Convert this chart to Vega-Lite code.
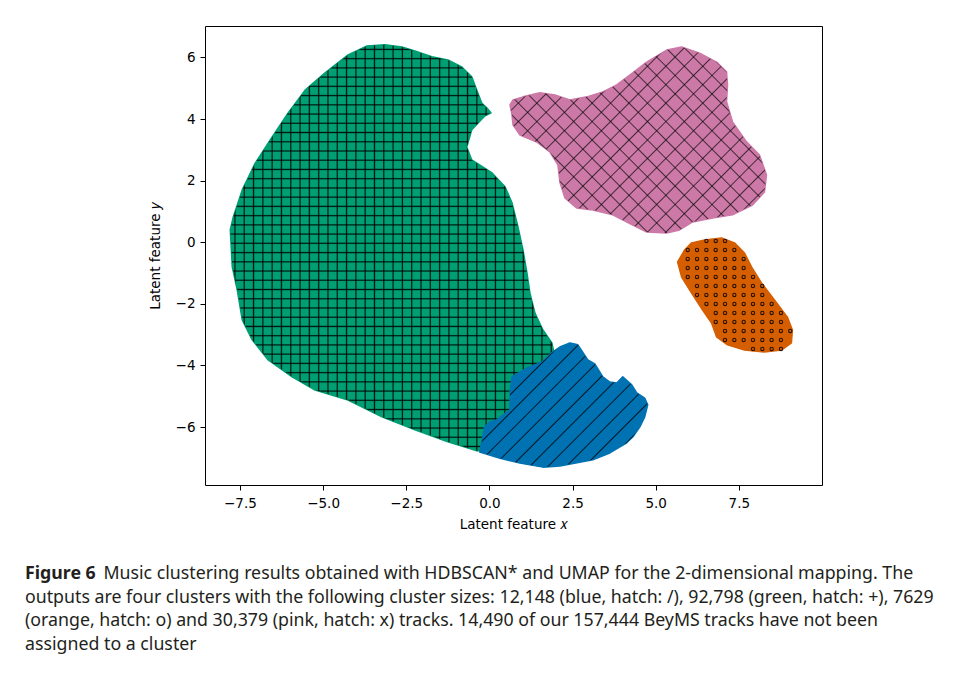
{
"$schema": "https://vega.github.io/schema/vega-lite/v6.json",
"width": 617, "height": 459,
"autosize": {"type": "none"},
"padding": {"left": 205, "top": 26, "right": 133, "bottom": 191},
"background": "white",
"config": {
 "view": {"stroke": "black", "strokeWidth": 1},
 "axis": {"grid": false, "domain": false, "tickColor": "black", "tickSize": 5, "tickWidth": 1, "labelColor": "black", "labelFont": "DejaVu Sans", "labelFontSize": 13.5, "labelPadding": 5, "titleFont": "DejaVu Sans", "titleFontSize": 13.5, "titleFontWeight": "normal", "titleColor": "black"}
},
"title": {"text": "Figure 6", "subtitle": ["\u200b\u00a0\u00a0\u00a0\u00a0\u00a0\u00a0\u00a0\u00a0\u00a0\u00a0\u00a0\u00a0\u00a0\u00a0\u00a0\u00a0\u00a0Music clustering results obtained with HDBSCAN* and UMAP for the 2-dimensional mapping. The", "outputs are four clusters with the following cluster sizes: 12,148 (blue, hatch: /), 92,798 (green, hatch: +), 7629", "(orange, hatch: o) and 30,379 (pink, hatch: x) tracks. 14,490 of our 157,444 BeyMS tracks have not been", "assigned to a cluster"], "orient": "bottom", "anchor": "start", "frame": "group", "dx": -180, "offset": 34, "font": "Noto Sans", "fontSize": 17.75, "fontWeight": "bold", "color": "#231f20", "subtitleFont": "Noto Sans", "subtitleFontSize": 17.75, "subtitleFontWeight": "normal", "subtitleColor": "#231f20", "subtitleLineHeight": 23.5, "subtitlePadding": -17.75},
"datasets": {
 "poly": [
  {"c":"green","i":0,"x":-3.14,"y":6.41},{"c":"green","i":1,"x":-2.63,"y":6.34},{"c":"green","i":2,"x":-2.24,"y":6.21},{"c":"green","i":3,"x":-1.73,"y":6.02},{"c":"green","i":4,"x":-1.25,"y":5.92},{"c":"green","i":5,"x":-0.83,"y":5.69},{"c":"green","i":6,"x":-0.53,"y":5.37},{"c":"green","i":7,"x":-0.35,"y":4.85},{"c":"green","i":8,"x":-0.23,"y":4.52},{"c":"green","i":9,"x":-0.05,"y":4.33},{"c":"green","i":10,"x":0.05,"y":4.2},{"c":"green","i":11,"x":-0.14,"y":4.1},{"c":"green","i":12,"x":-0.53,"y":3.65},{"c":"green","i":13,"x":-0.68,"y":3.09},{"c":"green","i":14,"x":-0.53,"y":2.67},{"c":"green","i":15,"x":0.08,"y":2.25},{"c":"green","i":16,"x":0.47,"y":1.8},{"c":"green","i":17,"x":0.68,"y":1.28},{"c":"green","i":18,"x":0.86,"y":0.5},{"c":"green","i":19,"x":1.01,"y":-0.25},{"c":"green","i":20,"x":1.13,"y":-1.0},{"c":"green","i":21,"x":1.22,"y":-1.65},{"c":"green","i":22,"x":1.37,"y":-2.3},{"c":"green","i":23,"x":1.61,"y":-2.85},{"c":"green","i":24,"x":1.88,"y":-3.27},{"c":"green","i":25,"x":2.0,"y":-3.9},{"c":"green","i":26,"x":1.37,"y":-5.12},{"c":"green","i":27,"x":0.68,"y":-6.16},{"c":"green","i":28,"x":0.02,"y":-6.65},{"c":"green","i":29,"x":-0.35,"y":-6.78},{"c":"green","i":30,"x":-1.25,"y":-6.48},{"c":"green","i":31,"x":-2.24,"y":-6.09},{"c":"green","i":32,"x":-3.23,"y":-5.67},{"c":"green","i":33,"x":-4.25,"y":-5.12},{"c":"green","i":34,"x":-5.24,"y":-4.8},{"c":"green","i":35,"x":-5.93,"y":-4.37},{"c":"green","i":36,"x":-6.65,"y":-3.82},{"c":"green","i":37,"x":-7.13,"y":-3.17},{"c":"green","i":38,"x":-7.43,"y":-2.52},{"c":"green","i":39,"x":-7.58,"y":-1.55},{"c":"green","i":40,"x":-7.73,"y":-0.8},{"c":"green","i":41,"x":-7.79,"y":0.4},{"c":"green","i":42,"x":-7.7,"y":0.82},{"c":"green","i":43,"x":-7.43,"y":1.7},{"c":"green","i":44,"x":-7.04,"y":2.57},{"c":"green","i":45,"x":-6.53,"y":3.42},{"c":"green","i":46,"x":-6.05,"y":4.2},{"c":"green","i":47,"x":-5.54,"y":4.94},{"c":"green","i":48,"x":-4.94,"y":5.5},{"c":"green","i":49,"x":-4.25,"y":6.08},{"c":"green","i":50,"x":-3.68,"y":6.37},
  {"c":"blue","i":0,"x":-0.29,"y":-6.81},{"c":"blue","i":1,"x":-0.14,"y":-5.99},{"c":"blue","i":2,"x":0.02,"y":-5.83},{"c":"blue","i":3,"x":0.23,"y":-5.76},{"c":"blue","i":4,"x":0.62,"y":-5.44},{"c":"blue","i":5,"x":0.62,"y":-4.89},{"c":"blue","i":6,"x":0.68,"y":-4.37},{"c":"blue","i":7,"x":1.13,"y":-4.08},{"c":"blue","i":8,"x":1.58,"y":-3.89},{"c":"blue","i":9,"x":1.91,"y":-3.56},{"c":"blue","i":10,"x":2.12,"y":-3.4},{"c":"blue","i":11,"x":2.42,"y":-3.27},{"c":"blue","i":12,"x":2.66,"y":-3.33},{"c":"blue","i":13,"x":2.78,"y":-3.53},{"c":"blue","i":14,"x":2.96,"y":-3.82},{"c":"blue","i":15,"x":3.17,"y":-3.95},{"c":"blue","i":16,"x":3.41,"y":-4.37},{"c":"blue","i":17,"x":3.62,"y":-4.54},{"c":"blue","i":18,"x":3.83,"y":-4.57},{"c":"blue","i":19,"x":4.01,"y":-4.37},{"c":"blue","i":20,"x":4.28,"y":-4.63},{"c":"blue","i":21,"x":4.43,"y":-4.89},{"c":"blue","i":22,"x":4.67,"y":-5.06},{"c":"blue","i":23,"x":4.76,"y":-5.28},{"c":"blue","i":24,"x":4.67,"y":-5.67},{"c":"blue","i":25,"x":4.52,"y":-6.0},{"c":"blue","i":26,"x":4.31,"y":-6.32},{"c":"blue","i":27,"x":4.13,"y":-6.51},{"c":"blue","i":28,"x":3.62,"y":-6.84},{"c":"blue","i":29,"x":3.11,"y":-7.06},{"c":"blue","i":30,"x":2.12,"y":-7.26},{"c":"blue","i":31,"x":1.61,"y":-7.3},{"c":"blue","i":32,"x":0.92,"y":-7.17},{"c":"blue","i":33,"x":0.32,"y":-7.01},
  {"c":"pink","i":0,"x":0.62,"y":4.46},{"c":"pink","i":1,"x":0.71,"y":4.62},{"c":"pink","i":2,"x":1.01,"y":4.72},{"c":"pink","i":3,"x":1.52,"y":4.85},{"c":"pink","i":4,"x":1.97,"y":4.78},{"c":"pink","i":5,"x":2.42,"y":4.62},{"c":"pink","i":6,"x":2.93,"y":4.72},{"c":"pink","i":7,"x":3.41,"y":4.88},{"c":"pink","i":8,"x":3.83,"y":5.11},{"c":"pink","i":9,"x":4.22,"y":5.43},{"c":"pink","i":10,"x":4.73,"y":5.85},{"c":"pink","i":11,"x":5.33,"y":6.24},{"c":"pink","i":12,"x":5.78,"y":6.34},{"c":"pink","i":13,"x":6.32,"y":6.14},{"c":"pink","i":14,"x":6.83,"y":5.85},{"c":"pink","i":15,"x":7.13,"y":5.53},{"c":"pink","i":16,"x":7.16,"y":5.11},{"c":"pink","i":17,"x":7.13,"y":4.56},{"c":"pink","i":18,"x":7.31,"y":3.91},{"c":"pink","i":19,"x":7.73,"y":3.26},{"c":"pink","i":20,"x":8.12,"y":2.83},{"c":"pink","i":21,"x":8.33,"y":2.19},{"c":"pink","i":22,"x":8.27,"y":1.63},{"c":"pink","i":23,"x":7.91,"y":1.21},{"c":"pink","i":24,"x":7.31,"y":0.89},{"c":"pink","i":25,"x":6.71,"y":0.79},{"c":"pink","i":26,"x":6.11,"y":0.66},{"c":"pink","i":27,"x":5.72,"y":0.4},{"c":"pink","i":28,"x":5.33,"y":0.3},{"c":"pink","i":29,"x":4.73,"y":0.33},{"c":"pink","i":30,"x":4.31,"y":0.56},{"c":"pink","i":31,"x":3.71,"y":0.89},{"c":"pink","i":32,"x":3.11,"y":1.05},{"c":"pink","i":33,"x":2.63,"y":1.11},{"c":"pink","i":34,"x":2.27,"y":1.44},{"c":"pink","i":35,"x":2.12,"y":1.95},{"c":"pink","i":36,"x":2.06,"y":2.51},{"c":"pink","i":37,"x":1.82,"y":2.93},{"c":"pink","i":38,"x":1.43,"y":3.25},{"c":"pink","i":39,"x":0.92,"y":3.48},{"c":"pink","i":40,"x":0.71,"y":3.81},{"c":"pink","i":41,"x":0.68,"y":4.13},
  {"c":"orange","i":0,"x":5.87,"y":-0.25},{"c":"orange","i":1,"x":6.08,"y":-0.02},{"c":"orange","i":2,"x":6.47,"y":0.07},{"c":"orange","i":3,"x":6.98,"y":0.14},{"c":"orange","i":4,"x":7.37,"y":-0.02},{"c":"orange","i":5,"x":7.67,"y":-0.35},{"c":"orange","i":6,"x":7.88,"y":-0.8},{"c":"orange","i":7,"x":8.18,"y":-1.32},{"c":"orange","i":8,"x":8.57,"y":-1.87},{"c":"orange","i":9,"x":8.96,"y":-2.43},{"c":"orange","i":10,"x":9.11,"y":-2.85},{"c":"orange","i":11,"x":9.08,"y":-3.27},{"c":"orange","i":12,"x":8.78,"y":-3.5},{"c":"orange","i":13,"x":8.27,"y":-3.56},{"c":"orange","i":14,"x":7.67,"y":-3.5},{"c":"orange","i":15,"x":7.16,"y":-3.33},{"c":"orange","i":16,"x":6.83,"y":-3.07},{"c":"orange","i":17,"x":6.68,"y":-2.62},{"c":"orange","i":18,"x":6.41,"y":-2.2},{"c":"orange","i":19,"x":6.08,"y":-1.65},{"c":"orange","i":20,"x":5.78,"y":-1.13},{"c":"orange","i":21,"x":5.66,"y":-0.64}
 ],
 "orange_rows": [
  {"x":6.525,"x2":7.11,"y":0.042},{"x":5.963,"x2":7.4,"y":-0.25},{"x":5.963,"x2":7.68,"y":-0.542},{"x":5.963,"x2":7.68,"y":-0.834},{"x":5.963,"x2":7.96,"y":-1.126},{"x":6.243,"x2":8.24,"y":-1.418},{"x":6.243,"x2":8.24,"y":-1.71},{"x":6.525,"x2":8.52,"y":-2.003},{"x":6.805,"x2":8.8,"y":-2.295},{"x":6.805,"x2":8.8,"y":-2.587},{"x":7.084,"x2":9.08,"y":-2.879},{"x":7.084,"x2":8.8,"y":-3.171},{"x":7.926,"x2":8.8,"y":-3.463}
 ]
},
"encoding": {
 "x": {"field": "x", "type": "quantitative", "scale": {"domain": [-8.55, 10.0], "nice": false, "zero": false}, "axis": {"values": [-7.5, -5, -2.5, 0, 2.5, 5, 7.5], "format": ".1f", "title": "Latent feature 𝑥", "titlePadding": 8, "labelPadding": 6}},
 "y": {"field": "y", "type": "quantitative", "scale": {"domain": [-7.88, 7.02], "nice": false, "zero": false}, "axis": {"values": [-6, -4, -2, 0, 2, 4, 6], "format": "d", "title": "Latent feature 𝑦", "titlePadding": 13}}
},
"layer": [
 {"data": {"name": "poly"}, "transform": [{"filter": "datum.c == 'green'"}], "mark": {"type": "line", "interpolate": "linear-closed", "fill": "#009E73", "stroke": "#009E73", "strokeWidth": 1.5, "strokeJoin": "round"}, "encoding": {"order": {"field": "i", "type": "quantitative"}}},
 {"data": {"name": "poly"}, "transform": [{"filter": "datum.c == 'green'"}], "mark": {"type": "line", "interpolate": "linear-closed", "stroke": "transparent", "strokeWidth": 0, "fill": {"gradient": "linear", "x1": 0, "y1": 0, "x2": 1, "y2": 0, "stops": [
  {"offset":0,"color":"#00000000"},
  {"offset":0.0106,"color":"#00000000"},{"offset":0.0143,"color":"#000000dd"},{"offset":0.018,"color":"#00000000"},
  {"offset":0.0392,"color":"#00000000"},{"offset":0.0429,"color":"#000000dd"},{"offset":0.0466,"color":"#00000000"},
  {"offset":0.0677,"color":"#00000000"},{"offset":0.0714,"color":"#000000dd"},{"offset":0.0751,"color":"#00000000"},
  {"offset":0.0963,"color":"#00000000"},{"offset":0.1,"color":"#000000dd"},{"offset":0.1037,"color":"#00000000"},
  {"offset":0.1249,"color":"#00000000"},{"offset":0.1286,"color":"#000000dd"},{"offset":0.1323,"color":"#00000000"},
  {"offset":0.1534,"color":"#00000000"},{"offset":0.1571,"color":"#000000dd"},{"offset":0.1608,"color":"#00000000"},
  {"offset":0.182,"color":"#00000000"},{"offset":0.1857,"color":"#000000dd"},{"offset":0.1894,"color":"#00000000"},
  {"offset":0.2106,"color":"#00000000"},{"offset":0.2143,"color":"#000000dd"},{"offset":0.218,"color":"#00000000"},
  {"offset":0.2392,"color":"#00000000"},{"offset":0.2429,"color":"#000000dd"},{"offset":0.2466,"color":"#00000000"},
  {"offset":0.2677,"color":"#00000000"},{"offset":0.2714,"color":"#000000dd"},{"offset":0.2751,"color":"#00000000"},
  {"offset":0.2963,"color":"#00000000"},{"offset":0.3,"color":"#000000dd"},{"offset":0.3037,"color":"#00000000"},
  {"offset":0.3249,"color":"#00000000"},{"offset":0.3286,"color":"#000000dd"},{"offset":0.3323,"color":"#00000000"},
  {"offset":0.3534,"color":"#00000000"},{"offset":0.3571,"color":"#000000dd"},{"offset":0.3608,"color":"#00000000"},
  {"offset":0.382,"color":"#00000000"},{"offset":0.3857,"color":"#000000dd"},{"offset":0.3894,"color":"#00000000"},
  {"offset":0.4106,"color":"#00000000"},{"offset":0.4143,"color":"#000000dd"},{"offset":0.418,"color":"#00000000"},
  {"offset":0.4392,"color":"#00000000"},{"offset":0.4429,"color":"#000000dd"},{"offset":0.4466,"color":"#00000000"},
  {"offset":0.4677,"color":"#00000000"},{"offset":0.4714,"color":"#000000dd"},{"offset":0.4751,"color":"#00000000"},
  {"offset":0.4963,"color":"#00000000"},{"offset":0.5,"color":"#000000dd"},{"offset":0.5037,"color":"#00000000"},
  {"offset":0.5249,"color":"#00000000"},{"offset":0.5286,"color":"#000000dd"},{"offset":0.5323,"color":"#00000000"},
  {"offset":0.5534,"color":"#00000000"},{"offset":0.5571,"color":"#000000dd"},{"offset":0.5608,"color":"#00000000"},
  {"offset":0.582,"color":"#00000000"},{"offset":0.5857,"color":"#000000dd"},{"offset":0.5894,"color":"#00000000"},
  {"offset":0.6106,"color":"#00000000"},{"offset":0.6143,"color":"#000000dd"},{"offset":0.618,"color":"#00000000"},
  {"offset":0.6392,"color":"#00000000"},{"offset":0.6429,"color":"#000000dd"},{"offset":0.6466,"color":"#00000000"},
  {"offset":0.6677,"color":"#00000000"},{"offset":0.6714,"color":"#000000dd"},{"offset":0.6751,"color":"#00000000"},
  {"offset":0.6963,"color":"#00000000"},{"offset":0.7,"color":"#000000dd"},{"offset":0.7037,"color":"#00000000"},
  {"offset":0.7249,"color":"#00000000"},{"offset":0.7286,"color":"#000000dd"},{"offset":0.7323,"color":"#00000000"},
  {"offset":0.7534,"color":"#00000000"},{"offset":0.7571,"color":"#000000dd"},{"offset":0.7608,"color":"#00000000"},
  {"offset":0.782,"color":"#00000000"},{"offset":0.7857,"color":"#000000dd"},{"offset":0.7894,"color":"#00000000"},
  {"offset":0.8106,"color":"#00000000"},{"offset":0.8143,"color":"#000000dd"},{"offset":0.818,"color":"#00000000"},
  {"offset":0.8392,"color":"#00000000"},{"offset":0.8429,"color":"#000000dd"},{"offset":0.8466,"color":"#00000000"},
  {"offset":0.8677,"color":"#00000000"},{"offset":0.8714,"color":"#000000dd"},{"offset":0.8751,"color":"#00000000"},
  {"offset":0.8963,"color":"#00000000"},{"offset":0.9,"color":"#000000dd"},{"offset":0.9037,"color":"#00000000"},
  {"offset":0.9249,"color":"#00000000"},{"offset":0.9286,"color":"#000000dd"},{"offset":0.9323,"color":"#00000000"},
  {"offset":0.9534,"color":"#00000000"},{"offset":0.9571,"color":"#000000dd"},{"offset":0.9608,"color":"#00000000"},
  {"offset":0.982,"color":"#00000000"},{"offset":0.9857,"color":"#000000dd"},{"offset":0.9894,"color":"#00000000"},
  {"offset":1,"color":"#00000000"}]}}, "encoding": {"order": {"field": "i", "type": "quantitative"}}},
 {"data": {"name": "poly"}, "transform": [{"filter": "datum.c == 'green'"}], "mark": {"type": "line", "interpolate": "linear-closed", "stroke": "transparent", "strokeWidth": 0, "fill": {"gradient": "linear", "x1": 0, "y1": 0, "x2": 0, "y2": 1, "stops": [
  {"offset":0,"color":"#00000000"},
  {"offset":0.0084,"color":"#00000000"},{"offset":0.0114,"color":"#000000dd"},{"offset":0.0144,"color":"#00000000"},
  {"offset":0.0311,"color":"#00000000"},{"offset":0.0341,"color":"#000000dd"},{"offset":0.0371,"color":"#00000000"},
  {"offset":0.0538,"color":"#00000000"},{"offset":0.0568,"color":"#000000dd"},{"offset":0.0598,"color":"#00000000"},
  {"offset":0.0765,"color":"#00000000"},{"offset":0.0795,"color":"#000000dd"},{"offset":0.0825,"color":"#00000000"},
  {"offset":0.0993,"color":"#00000000"},{"offset":0.1023,"color":"#000000dd"},{"offset":0.1053,"color":"#00000000"},
  {"offset":0.122,"color":"#00000000"},{"offset":0.125,"color":"#000000dd"},{"offset":0.128,"color":"#00000000"},
  {"offset":0.1447,"color":"#00000000"},{"offset":0.1477,"color":"#000000dd"},{"offset":0.1507,"color":"#00000000"},
  {"offset":0.1675,"color":"#00000000"},{"offset":0.1705,"color":"#000000dd"},{"offset":0.1735,"color":"#00000000"},
  {"offset":0.1902,"color":"#00000000"},{"offset":0.1932,"color":"#000000dd"},{"offset":0.1962,"color":"#00000000"},
  {"offset":0.2129,"color":"#00000000"},{"offset":0.2159,"color":"#000000dd"},{"offset":0.2189,"color":"#00000000"},
  {"offset":0.2356,"color":"#00000000"},{"offset":0.2386,"color":"#000000dd"},{"offset":0.2416,"color":"#00000000"},
  {"offset":0.2584,"color":"#00000000"},{"offset":0.2614,"color":"#000000dd"},{"offset":0.2644,"color":"#00000000"},
  {"offset":0.2811,"color":"#00000000"},{"offset":0.2841,"color":"#000000dd"},{"offset":0.2871,"color":"#00000000"},
  {"offset":0.3038,"color":"#00000000"},{"offset":0.3068,"color":"#000000dd"},{"offset":0.3098,"color":"#00000000"},
  {"offset":0.3265,"color":"#00000000"},{"offset":0.3295,"color":"#000000dd"},{"offset":0.3325,"color":"#00000000"},
  {"offset":0.3493,"color":"#00000000"},{"offset":0.3523,"color":"#000000dd"},{"offset":0.3553,"color":"#00000000"},
  {"offset":0.372,"color":"#00000000"},{"offset":0.375,"color":"#000000dd"},{"offset":0.378,"color":"#00000000"},
  {"offset":0.3947,"color":"#00000000"},{"offset":0.3977,"color":"#000000dd"},{"offset":0.4007,"color":"#00000000"},
  {"offset":0.4175,"color":"#00000000"},{"offset":0.4205,"color":"#000000dd"},{"offset":0.4235,"color":"#00000000"},
  {"offset":0.4402,"color":"#00000000"},{"offset":0.4432,"color":"#000000dd"},{"offset":0.4462,"color":"#00000000"},
  {"offset":0.4629,"color":"#00000000"},{"offset":0.4659,"color":"#000000dd"},{"offset":0.4689,"color":"#00000000"},
  {"offset":0.4856,"color":"#00000000"},{"offset":0.4886,"color":"#000000dd"},{"offset":0.4916,"color":"#00000000"},
  {"offset":0.5084,"color":"#00000000"},{"offset":0.5114,"color":"#000000dd"},{"offset":0.5144,"color":"#00000000"},
  {"offset":0.5311,"color":"#00000000"},{"offset":0.5341,"color":"#000000dd"},{"offset":0.5371,"color":"#00000000"},
  {"offset":0.5538,"color":"#00000000"},{"offset":0.5568,"color":"#000000dd"},{"offset":0.5598,"color":"#00000000"},
  {"offset":0.5765,"color":"#00000000"},{"offset":0.5795,"color":"#000000dd"},{"offset":0.5825,"color":"#00000000"},
  {"offset":0.5993,"color":"#00000000"},{"offset":0.6023,"color":"#000000dd"},{"offset":0.6053,"color":"#00000000"},
  {"offset":0.622,"color":"#00000000"},{"offset":0.625,"color":"#000000dd"},{"offset":0.628,"color":"#00000000"},
  {"offset":0.6447,"color":"#00000000"},{"offset":0.6477,"color":"#000000dd"},{"offset":0.6507,"color":"#00000000"},
  {"offset":0.6675,"color":"#00000000"},{"offset":0.6705,"color":"#000000dd"},{"offset":0.6735,"color":"#00000000"},
  {"offset":0.6902,"color":"#00000000"},{"offset":0.6932,"color":"#000000dd"},{"offset":0.6962,"color":"#00000000"},
  {"offset":0.7129,"color":"#00000000"},{"offset":0.7159,"color":"#000000dd"},{"offset":0.7189,"color":"#00000000"},
  {"offset":0.7356,"color":"#00000000"},{"offset":0.7386,"color":"#000000dd"},{"offset":0.7416,"color":"#00000000"},
  {"offset":0.7584,"color":"#00000000"},{"offset":0.7614,"color":"#000000dd"},{"offset":0.7644,"color":"#00000000"},
  {"offset":0.7811,"color":"#00000000"},{"offset":0.7841,"color":"#000000dd"},{"offset":0.7871,"color":"#00000000"},
  {"offset":0.8038,"color":"#00000000"},{"offset":0.8068,"color":"#000000dd"},{"offset":0.8098,"color":"#00000000"},
  {"offset":0.8265,"color":"#00000000"},{"offset":0.8295,"color":"#000000dd"},{"offset":0.8325,"color":"#00000000"},
  {"offset":0.8493,"color":"#00000000"},{"offset":0.8523,"color":"#000000dd"},{"offset":0.8553,"color":"#00000000"},
  {"offset":0.872,"color":"#00000000"},{"offset":0.875,"color":"#000000dd"},{"offset":0.878,"color":"#00000000"},
  {"offset":0.8947,"color":"#00000000"},{"offset":0.8977,"color":"#000000dd"},{"offset":0.9007,"color":"#00000000"},
  {"offset":0.9175,"color":"#00000000"},{"offset":0.9205,"color":"#000000dd"},{"offset":0.9235,"color":"#00000000"},
  {"offset":0.9402,"color":"#00000000"},{"offset":0.9432,"color":"#000000dd"},{"offset":0.9462,"color":"#00000000"},
  {"offset":0.9629,"color":"#00000000"},{"offset":0.9659,"color":"#000000dd"},{"offset":0.9689,"color":"#00000000"},
  {"offset":0.9856,"color":"#00000000"},{"offset":0.9886,"color":"#000000dd"},{"offset":0.9916,"color":"#00000000"},
  {"offset":1,"color":"#00000000"}]}}, "encoding": {"order": {"field": "i", "type": "quantitative"}}},
 {"data": {"name": "poly"}, "transform": [{"filter": "datum.c == 'blue'"}], "mark": {"type": "line", "interpolate": "linear-closed", "fill": "#0072B2", "stroke": "#0072B2", "strokeWidth": 1.5, "strokeJoin": "round"}, "encoding": {"order": {"field": "i", "type": "quantitative"}}},
 {"data": {"name": "poly"}, "transform": [{"filter": "datum.c == 'blue'"}], "mark": {"type": "line", "interpolate": "linear-closed", "stroke": "transparent", "strokeWidth": 0, "fill": {"gradient": "linear", "x1": 0, "y1": 0, "x2": 1.1246, "y2": 0.8314, "stops": [
  {"offset":0,"color":"#00000000"},
  {"offset":0.0265,"color":"#00000000"},{"offset":0.0313,"color":"#000000cc"},{"offset":0.0361,"color":"#00000000"},
  {"offset":0.089,"color":"#00000000"},{"offset":0.0938,"color":"#000000cc"},{"offset":0.0986,"color":"#00000000"},
  {"offset":0.1515,"color":"#00000000"},{"offset":0.1563,"color":"#000000cc"},{"offset":0.1611,"color":"#00000000"},
  {"offset":0.214,"color":"#00000000"},{"offset":0.2188,"color":"#000000cc"},{"offset":0.2236,"color":"#00000000"},
  {"offset":0.2765,"color":"#00000000"},{"offset":0.2813,"color":"#000000cc"},{"offset":0.2861,"color":"#00000000"},
  {"offset":0.339,"color":"#00000000"},{"offset":0.3438,"color":"#000000cc"},{"offset":0.3486,"color":"#00000000"},
  {"offset":0.4015,"color":"#00000000"},{"offset":0.4063,"color":"#000000cc"},{"offset":0.4111,"color":"#00000000"},
  {"offset":0.464,"color":"#00000000"},{"offset":0.4688,"color":"#000000cc"},{"offset":0.4736,"color":"#00000000"},
  {"offset":0.5265,"color":"#00000000"},{"offset":0.5313,"color":"#000000cc"},{"offset":0.5361,"color":"#00000000"},
  {"offset":0.589,"color":"#00000000"},{"offset":0.5938,"color":"#000000cc"},{"offset":0.5986,"color":"#00000000"},
  {"offset":0.6515,"color":"#00000000"},{"offset":0.6563,"color":"#000000cc"},{"offset":0.6611,"color":"#00000000"},
  {"offset":0.714,"color":"#00000000"},{"offset":0.7188,"color":"#000000cc"},{"offset":0.7236,"color":"#00000000"},
  {"offset":0.7765,"color":"#00000000"},{"offset":0.7813,"color":"#000000cc"},{"offset":0.7861,"color":"#00000000"},
  {"offset":0.839,"color":"#00000000"},{"offset":0.8438,"color":"#000000cc"},{"offset":0.8486,"color":"#00000000"},
  {"offset":0.9015,"color":"#00000000"},{"offset":0.9063,"color":"#000000cc"},{"offset":0.9111,"color":"#00000000"},
  {"offset":0.964,"color":"#00000000"},{"offset":0.9688,"color":"#000000cc"},{"offset":0.9736,"color":"#00000000"},
  {"offset":1,"color":"#00000000"}]}}, "encoding": {"order": {"field": "i", "type": "quantitative"}}},
 {"data": {"name": "poly"}, "transform": [{"filter": "datum.c == 'pink'"}], "mark": {"type": "line", "interpolate": "linear-closed", "fill": "#CC79A7", "stroke": "#CC79A7", "strokeWidth": 1.5, "strokeJoin": "round"}, "encoding": {"order": {"field": "i", "type": "quantitative"}}},
 {"data": {"name": "poly"}, "transform": [{"filter": "datum.c == 'pink'"}], "mark": {"type": "line", "interpolate": "linear-closed", "stroke": "transparent", "strokeWidth": 0, "fill": {"gradient": "linear", "x1": 0, "y1": 0, "x2": 1.1303, "y2": 0.8204, "stops": [
  {"offset":0,"color":"#00000000"},
  {"offset":0.0176,"color":"#00000000"},{"offset":0.0208,"color":"#000000aa"},{"offset":0.024,"color":"#00000000"},
  {"offset":0.0593,"color":"#00000000"},{"offset":0.0625,"color":"#000000aa"},{"offset":0.0657,"color":"#00000000"},
  {"offset":0.101,"color":"#00000000"},{"offset":0.1042,"color":"#000000aa"},{"offset":0.1074,"color":"#00000000"},
  {"offset":0.1426,"color":"#00000000"},{"offset":0.1458,"color":"#000000aa"},{"offset":0.149,"color":"#00000000"},
  {"offset":0.1843,"color":"#00000000"},{"offset":0.1875,"color":"#000000aa"},{"offset":0.1907,"color":"#00000000"},
  {"offset":0.226,"color":"#00000000"},{"offset":0.2292,"color":"#000000aa"},{"offset":0.2324,"color":"#00000000"},
  {"offset":0.2676,"color":"#00000000"},{"offset":0.2708,"color":"#000000aa"},{"offset":0.274,"color":"#00000000"},
  {"offset":0.3093,"color":"#00000000"},{"offset":0.3125,"color":"#000000aa"},{"offset":0.3157,"color":"#00000000"},
  {"offset":0.351,"color":"#00000000"},{"offset":0.3542,"color":"#000000aa"},{"offset":0.3574,"color":"#00000000"},
  {"offset":0.3926,"color":"#00000000"},{"offset":0.3958,"color":"#000000aa"},{"offset":0.399,"color":"#00000000"},
  {"offset":0.4343,"color":"#00000000"},{"offset":0.4375,"color":"#000000aa"},{"offset":0.4407,"color":"#00000000"},
  {"offset":0.476,"color":"#00000000"},{"offset":0.4792,"color":"#000000aa"},{"offset":0.4824,"color":"#00000000"},
  {"offset":0.5176,"color":"#00000000"},{"offset":0.5208,"color":"#000000aa"},{"offset":0.524,"color":"#00000000"},
  {"offset":0.5593,"color":"#00000000"},{"offset":0.5625,"color":"#000000aa"},{"offset":0.5657,"color":"#00000000"},
  {"offset":0.601,"color":"#00000000"},{"offset":0.6042,"color":"#000000aa"},{"offset":0.6074,"color":"#00000000"},
  {"offset":0.6426,"color":"#00000000"},{"offset":0.6458,"color":"#000000aa"},{"offset":0.649,"color":"#00000000"},
  {"offset":0.6843,"color":"#00000000"},{"offset":0.6875,"color":"#000000aa"},{"offset":0.6907,"color":"#00000000"},
  {"offset":0.726,"color":"#00000000"},{"offset":0.7292,"color":"#000000aa"},{"offset":0.7324,"color":"#00000000"},
  {"offset":0.7676,"color":"#00000000"},{"offset":0.7708,"color":"#000000aa"},{"offset":0.774,"color":"#00000000"},
  {"offset":0.8093,"color":"#00000000"},{"offset":0.8125,"color":"#000000aa"},{"offset":0.8157,"color":"#00000000"},
  {"offset":0.851,"color":"#00000000"},{"offset":0.8542,"color":"#000000aa"},{"offset":0.8574,"color":"#00000000"},
  {"offset":0.8926,"color":"#00000000"},{"offset":0.8958,"color":"#000000aa"},{"offset":0.899,"color":"#00000000"},
  {"offset":0.9343,"color":"#00000000"},{"offset":0.9375,"color":"#000000aa"},{"offset":0.9407,"color":"#00000000"},
  {"offset":0.976,"color":"#00000000"},{"offset":0.9792,"color":"#000000aa"},{"offset":0.9824,"color":"#00000000"},
  {"offset":1,"color":"#00000000"}]}}, "encoding": {"order": {"field": "i", "type": "quantitative"}}},
 {"data": {"name": "poly"}, "transform": [{"filter": "datum.c == 'pink'"}], "mark": {"type": "line", "interpolate": "linear-closed", "stroke": "transparent", "strokeWidth": 0, "fill": {"gradient": "linear", "x1": 1, "y1": 0, "x2": -0.1303, "y2": 0.8204, "stops": [
  {"offset":0,"color":"#00000000"},
  {"offset":0.0176,"color":"#00000000"},{"offset":0.0208,"color":"#000000aa"},{"offset":0.024,"color":"#00000000"},
  {"offset":0.0593,"color":"#00000000"},{"offset":0.0625,"color":"#000000aa"},{"offset":0.0657,"color":"#00000000"},
  {"offset":0.101,"color":"#00000000"},{"offset":0.1042,"color":"#000000aa"},{"offset":0.1074,"color":"#00000000"},
  {"offset":0.1426,"color":"#00000000"},{"offset":0.1458,"color":"#000000aa"},{"offset":0.149,"color":"#00000000"},
  {"offset":0.1843,"color":"#00000000"},{"offset":0.1875,"color":"#000000aa"},{"offset":0.1907,"color":"#00000000"},
  {"offset":0.226,"color":"#00000000"},{"offset":0.2292,"color":"#000000aa"},{"offset":0.2324,"color":"#00000000"},
  {"offset":0.2676,"color":"#00000000"},{"offset":0.2708,"color":"#000000aa"},{"offset":0.274,"color":"#00000000"},
  {"offset":0.3093,"color":"#00000000"},{"offset":0.3125,"color":"#000000aa"},{"offset":0.3157,"color":"#00000000"},
  {"offset":0.351,"color":"#00000000"},{"offset":0.3542,"color":"#000000aa"},{"offset":0.3574,"color":"#00000000"},
  {"offset":0.3926,"color":"#00000000"},{"offset":0.3958,"color":"#000000aa"},{"offset":0.399,"color":"#00000000"},
  {"offset":0.4343,"color":"#00000000"},{"offset":0.4375,"color":"#000000aa"},{"offset":0.4407,"color":"#00000000"},
  {"offset":0.476,"color":"#00000000"},{"offset":0.4792,"color":"#000000aa"},{"offset":0.4824,"color":"#00000000"},
  {"offset":0.5176,"color":"#00000000"},{"offset":0.5208,"color":"#000000aa"},{"offset":0.524,"color":"#00000000"},
  {"offset":0.5593,"color":"#00000000"},{"offset":0.5625,"color":"#000000aa"},{"offset":0.5657,"color":"#00000000"},
  {"offset":0.601,"color":"#00000000"},{"offset":0.6042,"color":"#000000aa"},{"offset":0.6074,"color":"#00000000"},
  {"offset":0.6426,"color":"#00000000"},{"offset":0.6458,"color":"#000000aa"},{"offset":0.649,"color":"#00000000"},
  {"offset":0.6843,"color":"#00000000"},{"offset":0.6875,"color":"#000000aa"},{"offset":0.6907,"color":"#00000000"},
  {"offset":0.726,"color":"#00000000"},{"offset":0.7292,"color":"#000000aa"},{"offset":0.7324,"color":"#00000000"},
  {"offset":0.7676,"color":"#00000000"},{"offset":0.7708,"color":"#000000aa"},{"offset":0.774,"color":"#00000000"},
  {"offset":0.8093,"color":"#00000000"},{"offset":0.8125,"color":"#000000aa"},{"offset":0.8157,"color":"#00000000"},
  {"offset":0.851,"color":"#00000000"},{"offset":0.8542,"color":"#000000aa"},{"offset":0.8574,"color":"#00000000"},
  {"offset":0.8926,"color":"#00000000"},{"offset":0.8958,"color":"#000000aa"},{"offset":0.899,"color":"#00000000"},
  {"offset":0.9343,"color":"#00000000"},{"offset":0.9375,"color":"#000000aa"},{"offset":0.9407,"color":"#00000000"},
  {"offset":0.976,"color":"#00000000"},{"offset":0.9792,"color":"#000000aa"},{"offset":0.9824,"color":"#00000000"},
  {"offset":1,"color":"#00000000"}]}}, "encoding": {"order": {"field": "i", "type": "quantitative"}}},
 {"data": {"name": "poly"}, "transform": [{"filter": "datum.c == 'orange'"}], "mark": {"type": "line", "interpolate": "linear-closed", "fill": "#D55E00", "stroke": "#D55E00", "strokeWidth": 1.5, "strokeJoin": "round"}, "encoding": {"order": {"field": "i", "type": "quantitative"}}},
 {"data": {"name": "orange_rows"}, "mark": {"type": "rule", "color": "#2a1200", "strokeWidth": 4.4, "strokeCap": "round", "strokeDash": [0.01, 9.31]}, "encoding": {"x2": {"field": "x2"}}},
 {"data": {"name": "orange_rows"}, "mark": {"type": "rule", "color": "#D55E00", "strokeWidth": 2.2, "strokeCap": "round", "strokeDash": [0.01, 9.31]}, "encoding": {"x2": {"field": "x2"}}}
]
}
